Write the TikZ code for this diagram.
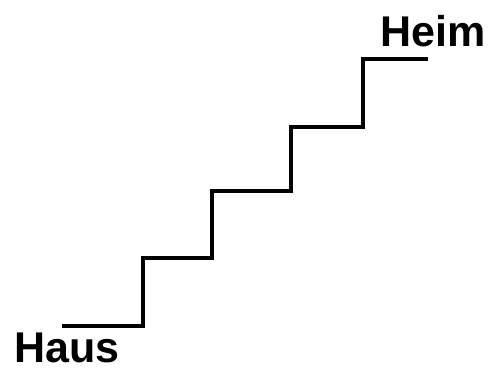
\documentclass[tikz,border=0pt]{standalone}
\usepackage{fontspec}
\setmainfont{Liberation Sans}
\usetikzlibrary{positioning}

\begin{document}
\begin{tikzpicture}[x=1pt, y=1pt, every node/.style={font=\fontsize{43}{43}\selectfont\bfseries, inner sep=0pt}]
\useasboundingbox (0,0) rectangle (494,370);
\node[anchor=base west] (haus) at (14,8) {Haus};
\node[anchor=base east] (heim) at (486,323) {Heim};
\coordinate (bottom) at (62,44);
\coordinate (top) at (428,311);
\draw[line width=4pt, line join=miter] (bottom) -- (143,44) |- (212,112) |- (291,179) |- (363,243) |- (top);
\end{tikzpicture}
\end{document}
